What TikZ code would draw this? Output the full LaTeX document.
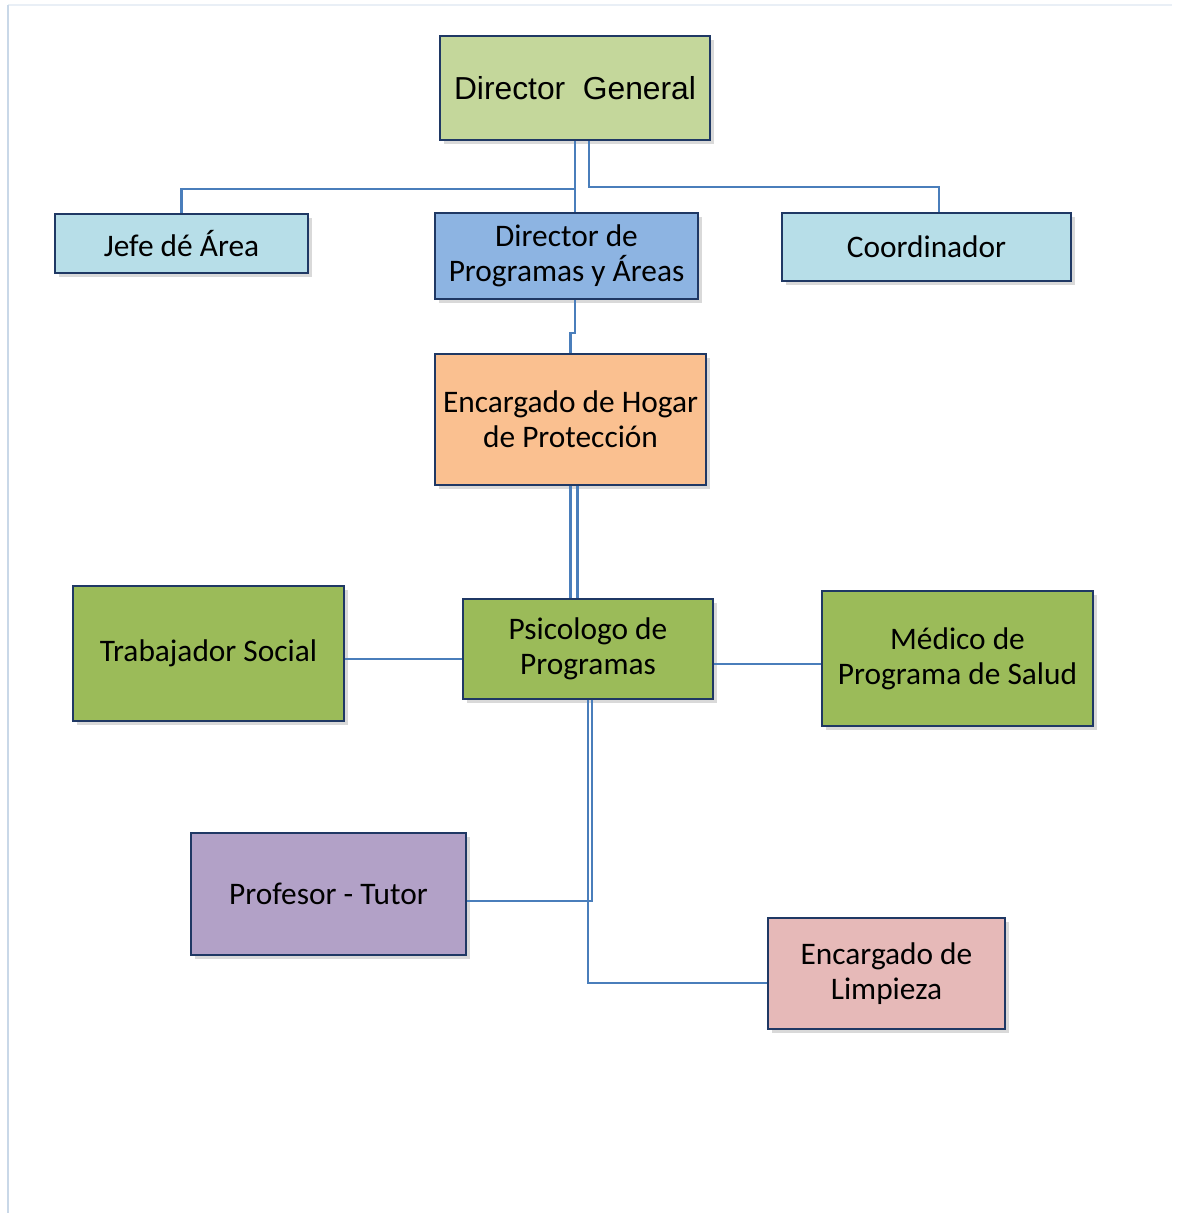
\documentclass[tikz,border=0pt]{standalone}
\usepackage{fontspec}
\setmainfont{Carlito}
\newfontfamily\arialfont{Liberation Sans}
\usepackage{tikz}
\usetikzlibrary{calc}
\usetikzlibrary{shadows}
\definecolor{OrgBorder}{HTML}{1F3864}
\definecolor{OrgLink}{HTML}{4A7EBB}
\definecolor{OrgOlive}{HTML}{C4D79B}
\definecolor{OrgSky}{HTML}{B7DEE8}
\definecolor{OrgBlue}{HTML}{8DB4E2}
\definecolor{OrgPeach}{HTML}{FAC090}
\definecolor{OrgGreen}{HTML}{9BBB59}
\definecolor{OrgLilac}{HTML}{B2A1C7}
\definecolor{OrgRose}{HTML}{E6B9B8}
\definecolor{OrgFrame}{HTML}{C9D8E8}
\tikzstyle{box} = [draw=OrgBorder, line width=1.4pt, inner sep=0pt, align=center,
  font=\fontsize{22.3}{25}\selectfont,
  drop shadow={shadow xshift=2.5pt, shadow yshift=-2.5pt, opacity=0.3}]
\tikzstyle{link} = [draw=OrgLink, line width=1.6pt]
% corners of a box, in pixels
\tikzset{area/.style n args={4}{at={({(#1+#3)/2},{(#2+#4)/2})},
  minimum width={(#3-#1)*0.025cm}, minimum height={(#4-#2)*0.025cm}}}

\begin{document}
\begin{tikzpicture}[x=0.025cm, y=-0.025cm]

	\useasboundingbox (0,0) rectangle (1177,1215);
	% page frame
	\draw[OrgFrame!40, line width=1pt] (8,5) -- (1172,5);
	\draw[OrgFrame, line width=1.2pt] (8,5) -- (8,1213);

	% Boxes
	\node[box, fill=OrgOlive, area={440}{36}{710}{140}, font=\arialfont\fontsize{22.6}{26}\selectfont] (dg) {Director\ \ General};
	\node[box, fill=OrgSky, area={55}{214}{308}{273}] (jefe) {Jefe dé Área};
	\node[box, fill=OrgBlue, area={435}{213}{698}{299}] (dp) {Director de\\Programas y Áreas};
	\node[box, fill=OrgSky, area={782}{213}{1071}{281}] (coord) {Coordinador};
	\node[box, fill=OrgPeach, area={435}{354}{706}{485}] (enc) {Encargado de Hogar\\de Protección};
	\node[box, fill=OrgGreen, area={73}{586}{344}{721}] (trab) {Trabajador Social};
	\node[box, fill=OrgGreen, area={463}{599}{713}{699}] (psi) {Psicologo de\\Programas};
	\node[box, fill=OrgGreen, area={822}{591}{1093}{726}] (med) {Médico de\\Programa de Salud};
	\node[box, fill=OrgLilac, area={191}{833}{466}{955}] (prof) {Profesor - Tutor};
	\node[box, fill=OrgRose, area={768}{918}{1005}{1029}] (lim) {Encargado de\\Limpieza};

	% Links from the top
	\draw[link] (dg.south) -- ++(0,48) -| (jefe.north);
	\draw[link] (dg.south) -- (dg.south |- dp.north);
	\coordinate (g2) at ($(dg.south)+(14,0)$);
	\draw[link] (g2) -- ++(0,46) -| ($(coord.north)+(12.5,0)$);
	\draw[link] ($(dp.south)+(8.5,0)$) -- ++(0,33) -| (enc.north);

	% Links to the Psicologo
	\coordinate (e2) at ($(enc.south)+(7,0)$);
	\draw[link] (enc.south) -- (enc.south |- psi.north);
	\draw[link] (e2) -- (e2 |- psi.north);
	\coordinate (pw) at ($(psi.west)+(0,10)$);
	\draw[link] (pw) -- (pw -| trab.east);
	\coordinate (pe) at ($(psi.east)+(0,15)$);
	\draw[link] (pe) -- (pe -| med.west);
	\draw[link] (psi.south) |- ($(lim.west)+(0,9.5)$);
	\draw[link] ($(psi.south)+(4,0)$) |- ($(prof.east)+(0,7)$);

\end{tikzpicture}
\end{document}
